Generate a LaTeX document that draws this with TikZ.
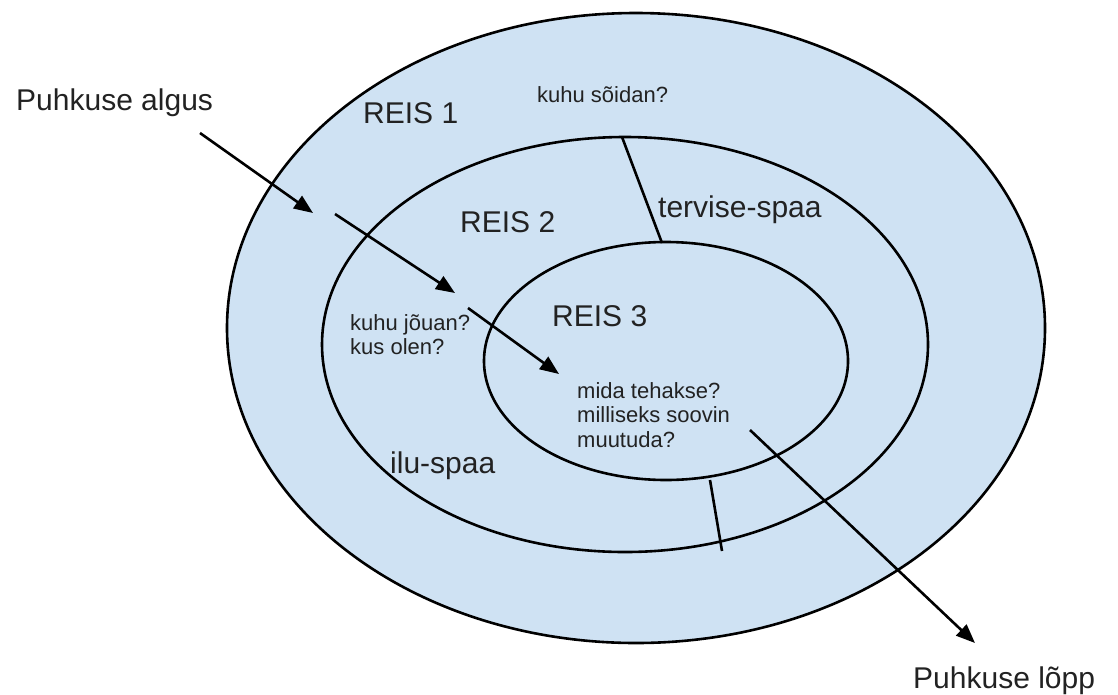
\documentclass[tikz,border=0pt]{standalone}
\usepackage{fontspec}
\setmainfont{Liberation Sans}
\usetikzlibrary{arrows.meta}
\definecolor{ringfill}{HTML}{CFE2F3}
\definecolor{txt}{HTML}{222222}
\tikzset{
  ring/.style={draw=black, fill=ringfill, line width=2.6pt},
  divider/.style={draw=black, line width=2.6pt},
  flow/.style={draw=black, line width=2.6pt, -{Triangle[length=19pt,width=15pt]}},
  big/.style={inner sep=0pt, text=txt, font=\fontsize{30}{36}\selectfont, anchor=base west},
  small/.style={inner sep=0pt, text=txt, font=\fontsize{22}{24.5}\selectfont, align=left, anchor=north west}
}
\begin{document}
\begin{tikzpicture}[x=1pt, y=-1pt]
\useasboundingbox (0,0) rectangle (1118,694);
% rings
\draw[ring] (636,328) ellipse [x radius=409pt, y radius=315pt];
\draw[ring] (625,344.5) ellipse [x radius=303pt, y radius=207.5pt];
\draw[ring] (666,361) ellipse [x radius=182pt, y radius=119pt];
% dividers
\coordinate (d1a) at (622,137);
\coordinate (d1b) at (662,243);
\coordinate (d2a) at (710,480);
\coordinate (d2b) at (722,551);
\draw[divider] (d1a) -- (d1b);
\draw[divider] (d2a) -- (d2b);
% labels
\node[big] (start) at (16,110) {Puhkuse algus};
\node[big] (end) at (913,688) {Puhkuse lõpp};
\node[big] (r1) at (363,123) {REIS 1};
\node[big] (r2) at (460,232) {REIS 2};
\node[big] (r3) at (552,326) {REIS 3};
\node[big] (ts) at (658,217) {tervise-spaa};
\node[big] (is) at (390,473) {ilu-spaa};
\node[small, anchor=base west] (q1) at (537,102) {kuhu sõidan?};
\node[small] (q2) at (350,314) {kuhu jõuan?\\kus olen?};
\node[small] (q3) at (577,382) {mida tehakse?\\milliseks soovin\\muutuda?};
% flow arrows
\coordinate (a1s) at (200,133);
\coordinate (a1e) at (313,213);
\coordinate (a2s) at (335,214);
\coordinate (a2e) at (455,293);
\coordinate (a3s) at (468,308);
\coordinate (a3e) at (559,374);
\coordinate (a4s) at (750,430);
\coordinate (a4e) at (975,643);
\draw[flow] (a1s) -- (a1e);
\draw[flow] (a2s) -- (a2e);
\draw[flow] (a3s) -- (a3e);
\draw[flow] (a4s) -- (a4e);
\end{tikzpicture}
\end{document}
